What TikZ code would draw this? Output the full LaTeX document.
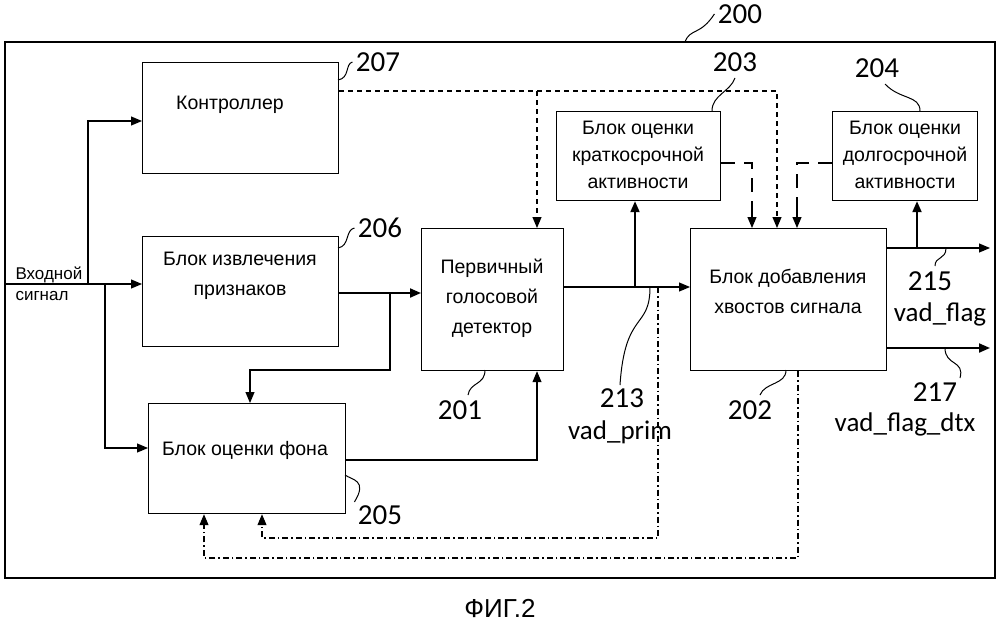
\documentclass[tikz,border=0pt]{standalone}
\usepackage{fontspec}
\setmainfont{Liberation Sans}
\newfontfamily\numf{Carlito}
\usetikzlibrary{arrows.meta}
\begin{document}
\begin{tikzpicture}[x=1pt,y=-1pt,
 box/.style={draw,line width=1.2pt,align=center,font=\fontsize{19}{30}\selectfont},
 ln/.style={line width=1.1pt},
 arr/.style={ln,-{Triangle[length=11pt,width=9pt]}},
 thk/.style={line width=2pt},
 dsh/.style={line width=1.1pt,dash pattern=on 5pt off 4pt},
 tdsh/.style={line width=2.6pt,dash pattern=on 14pt off 9pt},
 dd/.style={line width=1.1pt,dash pattern=on 6pt off 3pt on 1.5pt off 3pt},
 num/.style={font=\numf\fontsize{29}{29}\selectfont},
 lbl/.style={font=\numf\fontsize{27}{27}\selectfont},
 txt/.style={font=\fontsize{19.5}{30}\selectfont,align=center},
 lead/.style={line width=1pt}]
\useasboundingbox (0,0) rectangle (1000,635);
\draw[line width=1.3pt] (5,42) rectangle (995,578);
\node[box,minimum width=196pt,minimum height=111pt,anchor=north west] (ctl) at (142,62) {};
\node[txt] at (230,105) {Контроллер};
\node[box,minimum width=196pt,minimum height=110pt,anchor=north west] (fe) at (142,236) {};
\node[txt] at (240,276) {Блок извлечения\\признаков};
\node[box,minimum width=197pt,minimum height=110pt,anchor=north west] (bg) at (148,403) {};
\node[txt] at (245,450) {Блок оценки фона};
\node[box,minimum width=142pt,minimum height=142pt,anchor=north west] (pv) at (421,228) {};
\node[txt] at (492,298) {Первичный\\голосовой\\детектор};
\node[box,minimum width=164pt,minimum height=89pt,anchor=north west] (st) at (556,111) {};
\node[txt,font=\fontsize{19.5}{27}\selectfont] at (638,155) {Блок оценки\\краткосрочной\\активности};
\node[box,minimum width=145pt,minimum height=89pt,anchor=north west] (lt) at (832,111) {};
\node[txt,font=\fontsize{19.5}{27}\selectfont] at (905,155) {Блок оценки\\долгосрочной\\активности};
\node[box,minimum width=196pt,minimum height=142pt,anchor=north west] (tl) at (690,228) {};
\node[txt] at (788,291) {Блок добавления\\хвостов сигнала};
\node[font=\fontsize{17}{21}\selectfont,align=left,anchor=west] (in) at (12,284) {Входной\\сигнал};
\coordinate (i0) at (5,284);
% input
\draw[arr] (i0) -- (fe.west|-0,284);
\draw[arr] (88,284) |- (ctl.west|-0,121);
\draw[arr] (105,284) |- (bg.west|-0,448);
% features
\draw[arr,thk] (fe.east|-0,293) -- (pv.west|-0,293);
\draw[arr] (390,293) -- (390,370) -| (bg.north-|250,0);
% background
\draw[arr] (bg.east|-0,460) -| (pv.south-|537,0);
% primary out
\draw[arr] (pv.east|-0,287) -- (tl.west|-0,287);
\draw[arr,thk] (635,287) -- (st.south-|635,0);
% dash-dot feedback
\draw[dd,-{Triangle[length=11pt,width=9pt]}] (658,287) -- (658,538) -| (bg.south-|262,0);
\draw[dd,-{Triangle[length=11pt,width=9pt]}] (tl.south-|798,0) -- (798,558) -| (bg.south-|204,0);
% controller dashed
\draw[dsh,-{Triangle[length=11pt,width=9pt]}] (ctl.east|-0,91) -| (tl.north-|777,0);
\draw[dsh,-{Triangle[length=11pt,width=9pt]}] (537,91) -- (pv.north-|537,0);
% activity
\draw[tdsh] (st.east|-0,163) -| (752,212);
\draw[arr] (752,205) -- (tl.north-|752,0);
\draw[tdsh] (lt.west|-0,163) -| (797,212);
\draw[arr] (797,205) -- (tl.north-|797,0);
% tail outputs
\coordinate (o1) at (990,248);
\coordinate (o2) at (990,348);
\draw[arr] (tl.east|-0,248) -- (o1);
\draw[thk] (tl.east|-0,248) -- (917,248);
\draw[arr,thk] (tl.east|-0,348) -- (o2);
\draw[arr,thk] (917,248) -- (lt.south-|917,0);
% leaders and numbers
\node[num] (n200) at (740,14) {200};
\draw[lead] (685,42) .. controls (690,28) and (700,36) .. (n200.west);
\node[num] (n207) at (378,62) {207};
\draw[lead] (338,80) .. controls (350,78) and (345,64) .. (n207.west);
\node[num] (n203) at (735,62) {203};
\draw[lead] (712,111) .. controls (712,95) and (730,92) .. (735,78);
\node[num] (n204) at (877,68) {204};
\draw[lead] (920,111) .. controls (920,95) and (900,100) .. (885,84);
\node[num] (n206) at (380,228) {206};
\draw[lead] (338,248) .. controls (350,246) and (345,230) .. (n206.west);
\node[num] (n201) at (460,410) {201};
\draw[lead] (485,370) .. controls (485,385) and (470,382) .. (468,395);
\node[num] (n213) at (622,398) {213};
\node[lbl] at (620,432) {vad\_prim};
\draw[lead] (650,287) .. controls (650,330) and (625,310) .. (620,385);
\node[num] (n202) at (750,410) {202};
\draw[lead] (786,370) .. controls (786,385) and (765,382) .. (760,395);
\node[num] (n205) at (380,515) {205};
\draw[lead] (345,475) .. controls (352,480) and (368,480) .. (n205.north west);
\node[num] (n215) at (930,281) {215};
\node[lbl] at (940,314) {vad\_flag};
\draw[lead] (946,248) .. controls (946,260) and (935,256) .. (935,266);
\node[num] (n217) at (935,392) {217};
\node[lbl] at (905,424) {vad\_flag\_dtx};
\draw[lead] (945,348) .. controls (945,366) and (965,360) .. (960,378);
\node[font=\fontsize{26}{26}\selectfont] at (500,608) {ФИГ.2};
\end{tikzpicture}
\end{document}
